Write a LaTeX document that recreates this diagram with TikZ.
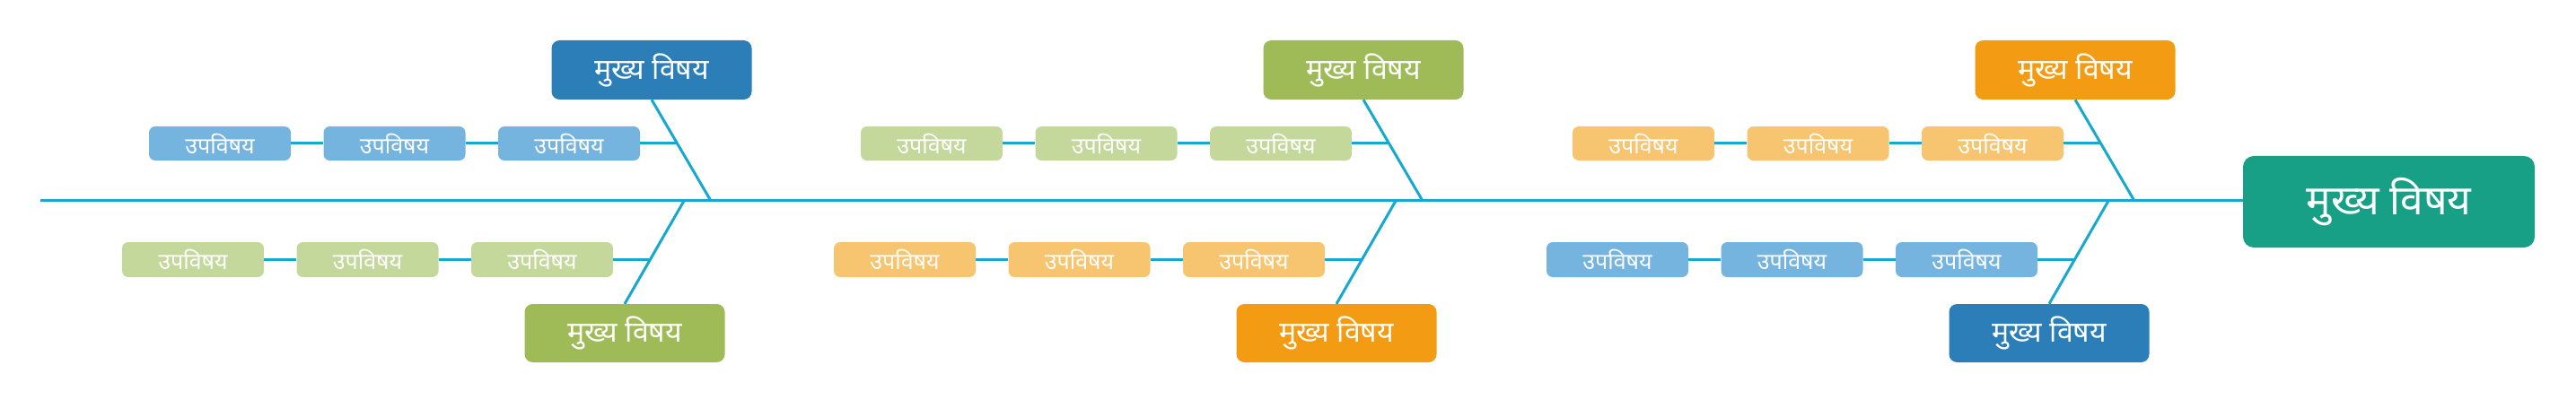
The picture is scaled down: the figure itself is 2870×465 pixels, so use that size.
\documentclass[tikz,border=0pt]{standalone}
\usepackage{fontspec}
\newfontfamily\devfont[Script=Devanagari]{Noto Sans}
\usetikzlibrary{calc}
\definecolor{mainblue}{HTML}{2C7EB8}
\definecolor{maingreen}{HTML}{9FBB58}
\definecolor{mainorange}{HTML}{F39C13}
\definecolor{subblue}{HTML}{75B4DE}
\definecolor{subgreen}{HTML}{C4D89C}
\definecolor{suborange}{HTML}{F7C470}
\definecolor{headteal}{HTML}{18A086}
\definecolor{bonecol}{HTML}{17A8CE}
\tikzset{
  bone/.style={draw=bonecol, line width=3},
  mainbox/.style={rounded corners=9, inner sep=0, minimum width=223, minimum height=66,
    text=white, font=\devfont\fontsize{32}{36}\selectfont},
  subbox/.style={rounded corners=7, inner sep=0, minimum width=158, minimum height=38,
    text=white, font=\devfont\fontsize{25}{28}\selectfont},
  headbox/.style={rounded corners=12, inner sep=0, minimum width=325, minimum height=102,
    fill=headteal, text=white, font=\devfont\fontsize{46}{52}\selectfont}
}
% top bone: #1 id, #2 dx, #3 main colour, #4 sub colour
\newcommand{\topbone}[4]{
  \node[mainbox, fill=#3] (#1m) at (726+#2, 78) {मुख्य विषय};
  \coordinate (#1sp) at (792+#2, 224);
  \coordinate (#1j) at (754.5+#2, 160);
  \node[subbox, fill=#4] (#1s1) at (245+#2, 160) {उपविषय};
  \node[subbox, fill=#4] (#1s2) at (439.5+#2, 160) {उपविषय};
  \node[subbox, fill=#4] (#1s3) at (634+#2, 160) {उपविषय};
  \draw[bone] (#1m.south) -- (#1sp);
  \draw[bone] (#1s1.east) -- (#1s2.west);
  \draw[bone] (#1s2.east) -- (#1s3.west);
  \draw[bone] (#1s3.east) -- (#1j);
}
\newcommand{\botbone}[4]{
  \node[mainbox, fill=#3, minimum height=65] (#1m) at (696+#2, 371.5) {मुख्य विषय};
  \coordinate (#1sp) at (762+#2, 224);
  \coordinate (#1j) at (724.5+#2, 289.5);
  \node[subbox, fill=#4, minimum height=39] (#1s1) at (215+#2, 289.5) {उपविषय};
  \node[subbox, fill=#4, minimum height=39] (#1s2) at (409.5+#2, 289.5) {उपविषय};
  \node[subbox, fill=#4, minimum height=39] (#1s3) at (604+#2, 289.5) {उपविषय};
  \draw[bone] (#1sp) -- (#1m.north);
  \draw[bone] (#1s1.east) -- (#1s2.west);
  \draw[bone] (#1s2.east) -- (#1s3.west);
  \draw[bone] (#1s3.east) -- (#1j);
}
\begin{document}
\begin{tikzpicture}[x=1pt, y=-1pt]
\useasboundingbox (0,0) rectangle (2870,465);
\node[headbox] (head) at (2661.5, 225) {मुख्य विषय};
\coordinate (tail) at (45, 224);
\draw[bone] (tail) -- (tail -| head.west);
\topbone{ta}{0}{mainblue}{subblue}
\topbone{tb}{793}{maingreen}{subgreen}
\topbone{tc}{1586}{mainorange}{suborange}
\botbone{ba}{0}{maingreen}{subgreen}
\botbone{bb}{793}{mainorange}{suborange}
\botbone{bc}{1587}{mainblue}{subblue}
\end{tikzpicture}
\end{document}
